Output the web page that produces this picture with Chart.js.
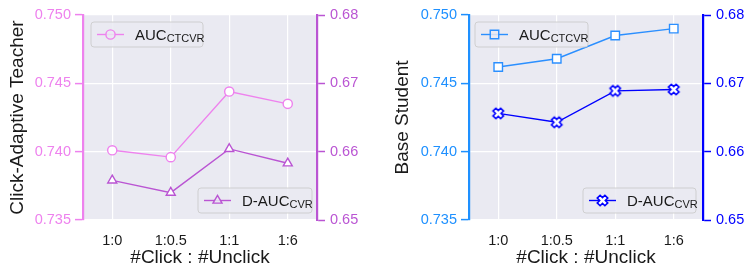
<!DOCTYPE html>
<html>
<head>
<meta charset="utf-8">
<script src="https://cdn.jsdelivr.net/npm/chart.js@4.4.1/dist/chart.umd.min.js"></script>
<style>
  html, body { margin: 0; padding: 0; background: #ffffff; }
  #wrap { width: 756px; height: 280px; display: flex; }
  .cell { position: relative; width: 378px; height: 280px; }
</style>
</head>
<body>
<div id="wrap">
  <div class="cell"><canvas id="c1" width="378" height="280"></canvas></div>
  <div class="cell"><canvas id="c2" width="378" height="280"></canvas></div>
</div>
<script>
// ---- data ----
const categories = ['1:0', '1:0.5', '1:1', '1:6'];
const teacherAUC = [0.7401, 0.7396, 0.7444, 0.7435];
const teacherDAUC = [0.6558, 0.6540, 0.6604, 0.6583];
const studentAUC = [0.7462, 0.7468, 0.7485, 0.7490];
const studentDAUC = [0.6656, 0.6643, 0.6689, 0.6691];
const leftTicks = [0.735, 0.740, 0.745, 0.750];
const rightTicks = [0.65, 0.66, 0.67, 0.68];
const seriesNames = ['AUC', 'D-AUC'];
const seriesSubs = ['CTCVR', 'CVR'];
const panelTitles = ['Click-Adaptive Teacher', 'Base Student'];
const xTitle = '#Click : #Unclick';

const FONT = "'Liberation Sans', Arial, sans-serif";

function makeXMarker(color) {
  const s = 15;
  const c = document.createElement('canvas');
  c.width = s; c.height = s;
  const g = c.getContext('2d');
  g.translate(s / 2, s / 2);
  g.rotate(Math.PI / 4);
  const a = 5.4, t = 2.0;
  g.beginPath();
  g.moveTo(-t, -a); g.lineTo(t, -a); g.lineTo(t, -t); g.lineTo(a, -t);
  g.lineTo(a, t); g.lineTo(t, t); g.lineTo(t, a); g.lineTo(-t, a);
  g.lineTo(-t, t); g.lineTo(-a, t); g.lineTo(-a, -t); g.lineTo(-t, -t);
  g.closePath();
  g.fillStyle = '#ffffff';
  g.fill();
  g.lineWidth = 1.6;
  g.strokeStyle = color;
  g.stroke();
  return c;
}

const bgPlugin = {
  id: 'bg',
  beforeDraw(chart) {
    const a = chart.chartArea, ctx = chart.ctx;
    ctx.save();
    ctx.fillStyle = '#eaeaf2';
    ctx.fillRect(a.left, a.top, a.right - a.left, a.bottom - a.top);
    ctx.restore();
  }
};

const legendPlugin = {
  id: 'customLegend',
  afterDatasetsDraw(chart, args, opts) {
    const ctx = chart.ctx;
    opts.items.forEach((it) => {
      const ds = chart.data.datasets[it.index];
      const x = it.x, y = it.y, w = it.w, h = 25;
      ctx.save();
      ctx.beginPath();
      ctx.roundRect(x, y, w, h, 3);
      ctx.fillStyle = 'rgba(234,234,242,0.85)';
      ctx.fill();
      ctx.lineWidth = 1;
      ctx.strokeStyle = 'rgba(204,204,204,0.9)';
      ctx.stroke();
      const cy = y + h / 2;
      ctx.beginPath();
      ctx.moveTo(x + 6, cy);
      ctx.lineTo(x + 33, cy);
      ctx.strokeStyle = ds.borderColor;
      ctx.lineWidth = ds.borderWidth;
      ctx.stroke();
      Chart.helpers.drawPoint(ctx, {
        pointStyle: ds.pointStyle,
        radius: ds.pointRadius,
        borderWidth: ds.pointBorderWidth,
        rotation: 0
      }, x + 19.5, cy);
      ctx.fillStyle = '#1a1a1a';
      ctx.textBaseline = 'alphabetic';
      ctx.font = '15px ' + FONT;
      const tx = x + 44;
      ctx.fillText(it.name, tx, cy + 5.5);
      const mw = ctx.measureText(it.name).width;
      ctx.font = '11px ' + FONT;
      ctx.fillText(it.sub, tx + mw, cy + 7.5);
      ctx.restore();
    });
  }
};

function drawPointStyleSetup(ds) {
  ds.pointBackgroundColor = '#ffffff';
  ds.pointBorderColor = ds.borderColor;
  ds.pointHoverRadius = ds.pointRadius;
  return ds;
}

function makeChart(id, cfg) {
  const ctx = document.getElementById(id);
  return new Chart(ctx, {
    type: 'line',
    data: {
      labels: categories,
      datasets: [
        drawPointStyleSetup({
          label: seriesNames[0] + seriesSubs[0],
          data: cfg.auc,
          yAxisID: 'yL',
          borderColor: cfg.aucColor,
          borderWidth: 1.4,
          pointStyle: cfg.aucStyle,
          pointRadius: cfg.aucRadius,
          pointBorderWidth: 1.4
        }),
        drawPointStyleSetup({
          label: seriesNames[1] + seriesSubs[1],
          data: cfg.dauc,
          yAxisID: 'yR',
          borderColor: cfg.daucColor,
          borderWidth: 1.4,
          pointStyle: cfg.daucStyle,
          pointRadius: cfg.daucRadius,
          pointBorderWidth: 1.4
        })
      ]
    },
    options: {
      responsive: false,
      animation: false,
      devicePixelRatio: 1,
      layout: { padding: { top: 15, bottom: 0, left: 0, right: 0 } },
      plugins: {
        legend: { display: false },
        tooltip: { enabled: false },
        customLegend: { items: cfg.legend }
      },
      scales: {
        x: {
          type: 'category',
          offset: true,
          grid: { color: '#ffffff', lineWidth: 1.2, drawTicks: false },
          border: { display: false },
          ticks: { color: '#1a1a1a', font: { family: FONT, size: 14.5 }, padding: 12 },
          title: { display: true, text: xTitle, color: '#1a1a1a', font: { family: FONT, size: 19 }, padding: { top: 0, bottom: 11 } },
          afterFit(s) { s.height = 60; }
        },
        yL: {
          position: 'left',
          min: 0.735, max: 0.750,
          afterBuildTicks(s) { s.ticks = leftTicks.map(v => ({ value: v })); },
          grid: { color: '#ffffff', lineWidth: 1.2, tickColor: cfg.leftAxisColor, tickLength: 8, tickWidth: 1.5 },
          border: { color: cfg.leftAxisColor, width: 2.2 },
          ticks: { color: cfg.leftAxisColor, font: { family: FONT, size: 14.5 }, padding: 4, callback: v => v.toFixed(3) },
          title: { display: true, text: cfg.title, color: '#1a1a1a', font: { family: FONT, size: 19 }, padding: { top: cfg.titlePad, bottom: 0 } },
          afterFit(s) { s.width = cfg.leftW; }
        },
        yR: {
          position: 'right',
          min: 0.65, max: 0.68,
          afterBuildTicks(s) { s.ticks = rightTicks.map(v => ({ value: v })); },
          grid: { drawOnChartArea: false, tickColor: cfg.rightAxisColor, tickLength: 8, tickWidth: 1.5 },
          border: { color: cfg.rightAxisColor, width: 2.2 },
          ticks: { color: cfg.rightAxisColor, font: { family: FONT, size: 14.5 }, padding: 5, callback: v => v.toFixed(2) },
          afterFit(s) { s.width = cfg.rightW; }
        }
      }
    },
    plugins: [bgPlugin, legendPlugin]
  });
}

makeChart('c1', {
  auc: teacherAUC, dauc: teacherDAUC,
  aucColor: '#ee82ee', daucColor: '#ba55d3',
  aucStyle: 'circle', daucStyle: 'triangle',
  aucRadius: 4.6, daucRadius: 5.2,
  leftAxisColor: '#ee82ee', rightAxisColor: '#ba55d3',
  title: panelTitles[0], titlePad: 6,
  leftW: 83, rightW: 61,
  legend: [
    { index: 0, name: seriesNames[0], sub: seriesSubs[0], x: 91, y: 22, w: 112 },
    { index: 1, name: seriesNames[1], sub: seriesSubs[1], x: 198, y: 188, w: 114 }
  ]
});

makeChart('c2', {
  auc: studentAUC, dauc: studentDAUC,
  aucColor: '#2b8fff', daucColor: '#0000ff',
  aucStyle: 'rect', daucStyle: makeXMarker('#0000ff'),
  aucRadius: 6, daucRadius: 6,
  leftAxisColor: '#1e90ff', rightAxisColor: '#0000ff',
  title: panelTitles[1], titlePad: 13,
  leftW: 91, rightW: 53,
  legend: [
    { index: 0, name: seriesNames[0], sub: seriesSubs[0], x: 97, y: 22, w: 113 },
    { index: 1, name: seriesNames[1], sub: seriesSubs[1], x: 205, y: 188, w: 113 }
  ]
});
</script>
</body>
</html>
